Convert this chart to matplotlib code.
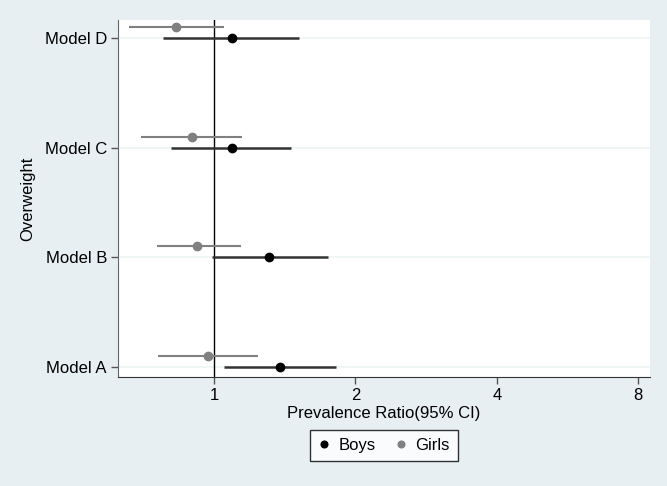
import matplotlib
matplotlib.use("Agg")
import matplotlib.pyplot as plt
import numpy as np

plt.rcParams['font.family'] = ['Liberation Sans', 'DejaVu Sans']

models = ["Model A", "Model B", "Model C", "Model D"]

boys_pr = [1.38, 1.31, 1.09, 1.09]
boys_lo = [1.05, 0.99, 0.81, 0.78]
boys_hi = [1.82, 1.75, 1.46, 1.52]

girls_pr = [0.97, 0.92, 0.90, 0.83]
girls_lo = [0.76, 0.755, 0.70, 0.66]
girls_hi = [1.24, 1.14, 1.15, 1.05]

bg = '#e8eff2'
fig = plt.figure(figsize=(6.67, 4.86), dpi=100, facecolor=bg)
ax = fig.add_axes([0.177, 0.2243, 0.7975, 0.7345])
ax.set_facecolor('white')

ypos = np.arange(1, len(models) + 1)

for y in ypos:
    ax.axhline(y, color='#edf3f5', lw=1.2, zorder=0)

ax.axvline(1, color='black', lw=1, zorder=1)

bp = np.array(boys_pr)
ax.errorbar(bp, ypos, xerr=[bp - np.array(boys_lo), np.array(boys_hi) - bp],
            fmt='o', color='black', ecolor='#333333', elinewidth=1.8,
            markersize=6, capsize=0, label='Boys', zorder=3)

gp = np.array(girls_pr)
ax.errorbar(gp, ypos + 0.1, xerr=[gp - np.array(girls_lo), np.array(girls_hi) - gp],
            fmt='o', color='#808080', ecolor='#808080', elinewidth=1.5,
            markersize=6, capsize=0, label='Girls', zorder=3)

ax.set_xscale('log')
ax.set_xlim(0.625, 8.47)
ax.set_ylim(0.909, 4.164)
ax.set_xticks([1, 2, 4, 8])
ax.set_xticklabels(['1', '2', '4', '8'])
ax.xaxis.set_minor_locator(matplotlib.ticker.NullLocator())
ax.set_yticks(ypos)
ax.set_yticklabels(models)

ax.tick_params(axis='both', labelsize=12, direction='out', length=5, width=1,
               color='#555555', pad=3)

for s in ['top', 'right']:
    ax.spines[s].set_visible(False)
ax.spines['left'].set_color('#666666')
ax.spines['bottom'].set_color('#333333')

ax.set_xlabel('Prevalence Ratio(95% CI)', fontsize=12, labelpad=2)
ax.set_ylabel('Overweight', fontsize=12, labelpad=7)

handles, labels = ax.get_legend_handles_labels()
handles = [h[0] for h in handles]
leg = ax.legend(handles, labels, loc='center', bbox_to_anchor=(0.5, -0.192),
                ncol=2, fancybox=False, frameon=True, edgecolor='black',
                fontsize=12, handlelength=0.7, handletextpad=0.5,
                columnspacing=1.2, borderpad=0.5, markerscale=0.8)
leg.get_frame().set_linewidth(1)

fig.savefig('out.png', dpi=100, facecolor=bg)
